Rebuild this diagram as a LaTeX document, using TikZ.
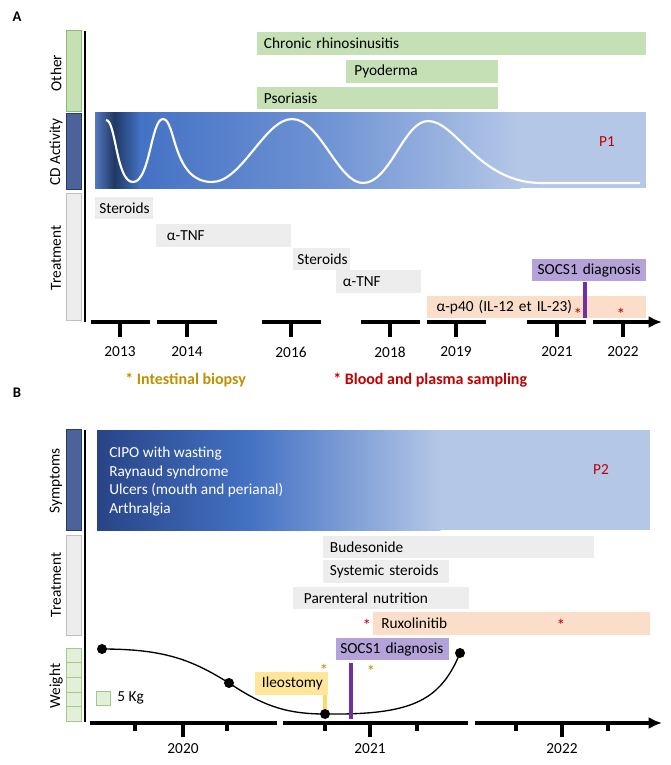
\documentclass[tikz,border=0pt]{standalone}
\usepackage{fontspec}
\setmainfont{Carlito}
\usetikzlibrary{arrows.meta}
\definecolor{other}{RGB}{197,224,180}
\definecolor{otherline}{RGB}{140,186,110}
\definecolor{weightfill}{RGB}{226,240,217}
\definecolor{cdbar}{RGB}{75,99,152}
\definecolor{cdbarline}{RGB}{40,60,105}
\definecolor{cdside}{RGB}{85,120,190}
\definecolor{cddark}{RGB}{31,56,100}
\definecolor{cdblue}{RGB}{68,114,196}
\definecolor{cdmid}{RGB}{112,148,212}
\definecolor{cdlight}{RGB}{180,199,231}
\definecolor{symdark}{RGB}{40,68,135}
\definecolor{treat}{RGB}{237,237,237}
\definecolor{treatline}{RGB}{191,191,191}
\definecolor{biologic}{RGB}{250,222,202}
\definecolor{diag}{RGB}{180,162,216}
\definecolor{diagline}{RGB}{112,48,160}
\definecolor{surgery}{RGB}{255,230,153}
\definecolor{surgeryline}{RGB}{255,217,102}
\definecolor{biopsy}{RGB}{191,144,0}
\definecolor{sampling}{RGB}{192,0,0}
\tikzstyle{tlbar}=[anchor=west, align=left, inner xsep=3pt, inner ysep=0pt, minimum height=17pt]
\tikzset{barw/.style={/utils/exec={\pgfmathsetmacro\barwidth{#1*0.75-6}}, text width=\barwidth pt}}
\tikzstyle{otherbar}=[tlbar, fill=other]
\tikzstyle{treatbar}=[tlbar, fill=treat]
\tikzstyle{biobar}=[tlbar, fill=biologic]
\tikzstyle{diagbox}=[tlbar, fill=diag]
\tikzstyle{surgbox}=[tlbar, fill=surgery]
\tikzstyle{catlabel}=[rotate=90]
\tikzstyle{yearlabel}=[font=\fontsize{11.5}{13}\selectfont]
\tikzstyle{weightdot}=[circle, fill=black, minimum size=7.5pt, inner sep=0pt]
\tikzstyle{timeline}=[line width=3pt]
\tikzstyle{yeartick}=[line width=2.5pt]
\tikzstyle{axisline}=[line width=2pt]
\tikzset{bloodstar/.style={text=sampling}, biopsystar/.style={text=biopsy}}
\tikzset{panellabel/.style={font=\fontsize{11}{13}\selectfont\bfseries}}
\tikzset{legend/.style={anchor=west, font=\fontsize{12}{14}\selectfont\bfseries}}

\begin{document}
\begin{tikzpicture}[x=0.75pt,y=-0.75pt, every node/.style={font=\fontsize{11.5}{13.5}\selectfont, inner sep=0pt}]
  \useasboundingbox (0,0) rectangle (671,765);

  %% Panel A
  \draw (17,17) node[panellabel] (labA) {A};
  \draw[fill=other, draw=otherline] (66,30) rectangle (81,111);
  \draw[fill=cdbar, draw=cdbarline] (66,113) rectangle (81,189);
  \draw[fill=treat, draw=treatline] (66,193) rectangle (81,320);
  \draw (56,73) node[catlabel] (catOther) {Other};
  \draw (56,152) node[catlabel] (catCD) {CD Activity};
  \draw (56,258) node[catlabel] (catTreatA) {Treatment};
  \draw[axisline] (85,31) -- (85,322);

  \draw (257,43.5) node[otherbar, barw=389] (chronic) {\hspace{2pt}Chronic rhinosinusitis};
  \draw (346,71.5) node[otherbar, barw=152] (pyoderma) {\hspace{3pt}Pyoderma};
  \draw (257,98) node[otherbar, barw=241] (psoriasis) {\hspace{2pt}Psoriasis};

  %% CD activity
  \shade[left color=cdside, right color=cddark] (95,112) rectangle (114.5,188);
  \shade[left color=cddark, right color=cdblue] (114,112) rectangle (140.5,188);
  \shade[left color=cdblue, right color=cdmid] (140,112) rectangle (330.5,188);
  \shade[left color=cdmid, right color=cdlight] (330,112) rectangle (520.5,188);
  \fill[cdlight] (520,112) rectangle (646,188);
  \draw[white, line width=1.6pt] (106,120) .. controls (116,120) and (116,182) .. (133,182)
    .. controls (150,182) and (151,119) .. (163,119)
    .. controls (176,119) and (172,182) .. (212,182)
    .. controls (242,182) and (265,119) .. (292,119)
    .. controls (320,119) and (338,183) .. (363,183)
    .. controls (390,183) and (404,121) .. (428,121)
    .. controls (456,121) and (478,182) .. (540,183) -- (640,183);
  \draw (607,142) node[text=sampling] (pOne) {P1};

  %% Treatment
  \draw (95,208) node[treatbar, barw=58] (steroidsA) {Steroids};
  \draw (156,235.5) node[treatbar, barw=135] (tnfA) {\hspace{5pt}α-TNF};
  \draw (293,259) node[treatbar, barw=57] (steroidsB) {Steroids};
  \draw (336,281.5) node[treatbar, barw=85] (tnfB) {\hspace{2pt}α-TNF};
  \draw (427,307) node[biobar, barw=219] (pforty) {\hspace{4pt}α-p40 (IL-12 et IL-23)};
  \draw (532,270) node[diagbox, barw=114] (socsA) {\hspace{1pt}SOCS1 diagnosis};
  \coordinate (socsAend) at (585,318);
  \draw[diagline, line width=2.6pt] (socsA.south -| socsAend) -- (socsAend);
  \draw (578,314) node[bloodstar, font=\fontsize{13}{14}\selectfont] (bsA1) {*};
  \draw (621,314) node[bloodstar, font=\fontsize{13}{14}\selectfont] (bsA2) {*};

  %% Time axis
  \foreach \a/\b/\t in {91/150/120, 157/217/187, 262/321/291, 361/420/390, 427/486/456, 527/586/557}{
    \draw[timeline] (\a,322) -- (\b,322);
    \draw[yeartick] (\t,322) -- (\t,337);
  }
  \draw[timeline, -{Latex[length=10pt, width=9pt]}] (593,322) -- (662,322);
  \draw[yeartick] (623,322) -- (623,337);
  \foreach \t/\y in {120/2013, 187/2014, 291/2016, 390/2018, 456/2019, 557/2021, 623/2022}
    \draw (\t,352) node[yearlabel] (yA\y) {\y};

  %% Legend
  \draw (125,380) node[legend, text=biopsy] (legBiopsy) {* Intestinal biopsy};
  \draw (333,380) node[legend, text=sampling] (legBlood) {* Blood and plasma sampling};

  %% Panel B
  \draw (17,393) node[panellabel] (labB) {B};
  \draw[fill=cdbar, draw=cdbarline] (66,429) rectangle (81,530);
  \draw[fill=treat, draw=treatline] (66,535) rectangle (81,635);
  \foreach \i in {0,...,4}
    \draw[fill=weightfill, draw=otherline!80] (66,648+\i*14.6) rectangle (81,662.6+\i*14.6);
  \draw (56,481) node[catlabel] (catSym) {Symptoms};
  \draw (56,585) node[catlabel] (catTreatB) {Treatment};
  \draw (56,686) node[catlabel] (catWeight) {Weight};
  \draw[axisline] (85,430) -- (85,722);

  %% Symptoms
  \shade[left color=symdark, right color=cdblue] (97,430) rectangle (250.5,530);
  \shade[left color=cdblue, right color=cdlight] (250,430) rectangle (440.5,530);
  \fill[cdlight] (440,430) rectangle (650,530);
  \draw (109,481.5) node[anchor=west, align=left, text=white, font=\fontsize{11.5}{14.1}\selectfont] (symptoms)
    {CIPO with wasting\\Raynaud syndrome\\Ulcers (mouth and perianal)\\Arthralgia};
  \draw (601,470) node[text=sampling] (pTwo) {P2};

  %% Treatment
  \draw (323,547) node[treatbar, barw=271] (budesonide) {\hspace{2pt}Budesonide};
  \draw (323,571.5) node[treatbar, barw=126] (systemic) {\hspace{2pt}Systemic steroids};
  \draw (293,598) node[treatbar, barw=176] (parenteral) {\hspace{5pt}Parenteral nutrition};
  \draw (373,623.5) node[biobar, barw=277] (ruxo) {\hspace{3pt}Ruxolinitib};
  \draw (367,625) node[bloodstar, font=\fontsize{13}{14}\selectfont] (bsB1) {*};
  \draw (561,625) node[bloodstar, font=\fontsize{13}{14}\selectfont] (bsB2) {*};
  \draw (336,649) node[diagbox, barw=113] (socsB) {SOCS1 diagnosis};
  \draw (255,683.5) node[surgbox, barw=73] (ileo) {\hspace{2pt}Ileostomy};
  \draw (324,670) node[biopsystar, font=\fontsize{13}{14}\selectfont] (bpB1) {*};
  \draw (371,671) node[biopsystar, font=\fontsize{13}{14}\selectfont] (bpB2) {*};

  %% Weight
  \draw (102,649) node[weightdot] (wOne) {};
  \draw (229,683) node[weightdot] (wTwo) {};
  \draw (325,714) node[weightdot] (wThree) {};
  \draw (460,653) node[weightdot] (wFour) {};
  \draw[line width=1pt] (wOne.center) .. controls (165,649) and (192,660) .. (wTwo.center)
    .. controls (262,705) and (285,714) .. (wThree.center)
    .. controls (410,715) and (440,702) .. (wFour.center);
  \draw[surgeryline, line width=3.5pt] (ileo.south -| wThree) -- (wThree.north);
  \coordinate (socsBend) at (351,719);
  \draw[diagline, line width=2.6pt] ([yshift=-2pt]socsB.south -| socsBend) -- (socsBend);
  \draw (96,691) node[anchor=north west, fill=weightfill, draw=otherline!80, minimum size=10.5pt] (kgBox) {};
  \draw (kgBox.east) node[anchor=west, xshift=5pt] (kgText) {5 Kg};

  %% Time axis
  \draw[timeline] (90,723) -- (277,723);
  \draw[timeline] (283,723) -- (468,723);
  \draw[timeline, -{Latex[length=10pt, width=9pt]}] (475,723) -- (662,723);
  \foreach \t in {135, 227, 325, 417, 516, 608}
    \draw[yeartick] (\t,723) -- (\t,731);
  \foreach \t/\y in {183/2020, 370/2021, 562/2022}{
    \draw[yeartick] (\t,723) -- (\t,737);
    \draw (\t,749) node[yearlabel] (yB\y) {\y};
  }
\end{tikzpicture}
\end{document}
